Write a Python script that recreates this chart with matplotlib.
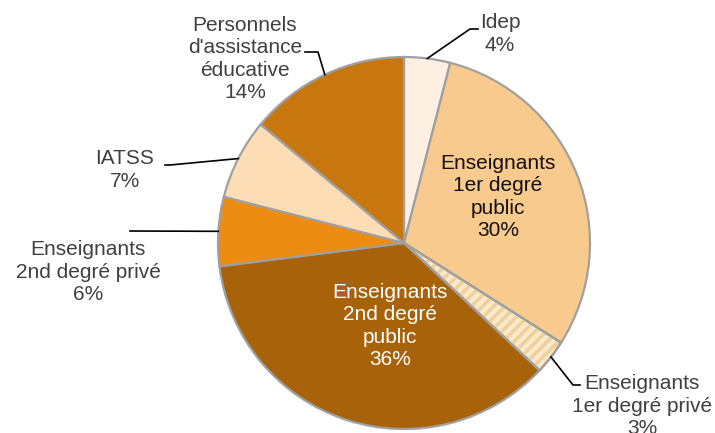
import matplotlib
matplotlib.use('Agg')
import matplotlib.pyplot as plt
import numpy as np
from matplotlib.patches import Wedge

# --- data ---
categories = ["Idep", "Enseignants\n1er degré\npublic", "Enseignants\n1er degré privé",
              "Enseignants\n2nd degré\npublic", "Enseignants\n2nd degré privé",
              "IATSS", "Personnels\nd'assistance\néducative"]
shares = [4, 30, 3, 36, 6, 7, 14]
colors = ["#FDF0E3", "#F8CA8E", "#FBE9CC", "#A8620A", "#EC8C12", "#FCDDB5", "#C8760E"]

# --- layout (pixels, y from top) ---
W, H = 715, 433
CX, CY, R = 404, 243, 186
label_pos = [(500, 34), (498, 197), (642, 406), (390, 326), (88, 272), (125, 170), (245, 59)]
text_colors = ['#404040', '#111111', '#404040', 'white', '#404040', '#404040', '#404040']
elbows = [[(470, 29), (478, 29)], None, [(573, 385), (580, 385)], None,
          [(130, 231)], [(170, 165), (165, 165)], [(318, 52), (305, 52)]]

plt.rcParams['font.family'] = ['Liberation Sans', 'DejaVu Sans']
plt.rcParams['hatch.linewidth'] = 2.5

fig = plt.figure(figsize=(W / 100, H / 100), dpi=100)
ax = fig.add_axes([0, 0, 1, 1])

edge = "#A0A0A0"
wedges, _ = ax.pie(shares, colors=colors, startangle=90, counterclock=False,
                   center=(CX, H - CY), radius=R,
                   wedgeprops=dict(edgecolor=edge, linewidth=1.6))
ax.set_xlim(0, W)
ax.set_ylim(0, H)
ax.axis('off')

# striped slice (1er degré privé)
w = wedges[2]
ax.add_patch(Wedge(w.center, w.r, w.theta1, w.theta2, facecolor='none',
                   edgecolor="#F0D09A", linewidth=0, hatch='///', zorder=w.get_zorder() + 0.1))
ax.add_patch(Wedge(w.center, w.r, w.theta1, w.theta2, fill=False,
                   edgecolor=edge, linewidth=1.6, zorder=w.get_zorder() + 0.2))

total = sum(shares)
for i, wd in enumerate(wedges):
    pct = round(shares[i] / total * 100)
    txt = f"{categories[i]}\n{pct}%"
    lx, ly = label_pos[i]
    ax.text(lx, H - ly, txt, ha='center', va='center', fontsize=15,
            color=text_colors[i], linespacing=1.22, zorder=5)
    if elbows[i] is not None:
        mid = np.deg2rad((wd.theta1 + wd.theta2) / 2)
        ex = CX + R * np.cos(mid)
        ey = (H - CY) + R * np.sin(mid)
        xs = [ex] + [p[0] for p in elbows[i]]
        ys = [ey] + [H - p[1] for p in elbows[i]]
        ax.plot(xs, ys, color='black', linewidth=1.2, zorder=4)

fig.savefig('out.png', dpi=100)
